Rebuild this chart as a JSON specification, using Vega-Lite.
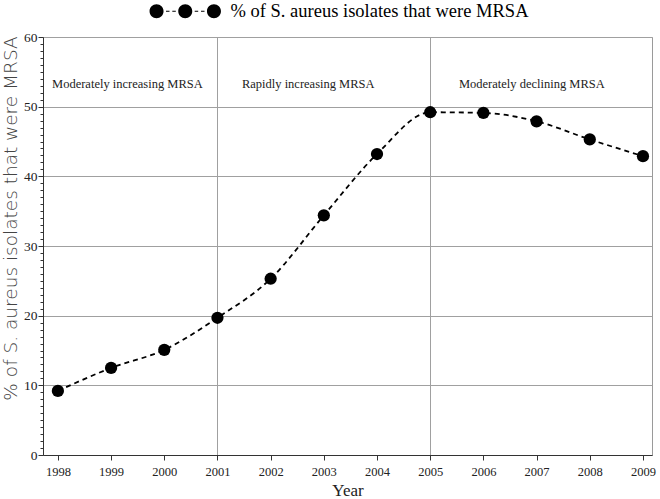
{
  "$schema": "https://vega.github.io/schema/vega-lite/v6.json",
  "width": 609,
  "height": 418,
  "autosize": {"type": "none"},
  "padding": {"left": 43, "top": 37, "right": 8, "bottom": 44},
  "background": "white",
  "config": {
    "view": {"stroke": "#9a9a9a", "strokeWidth": 1},
    "axis": {
      "domainColor": "#333",
      "tickColor": "#333",
      "gridColor": "#a0a0a0",
      "gridWidth": 1,
      "labelFont": "Liberation Serif",
      "labelColor": "#222",
      "titleColor": "#222",
      "titleFontWeight": "normal"
    }
  },
  "datasets": {
    "mrsa": [
      {"year": 1998, "pct": 9.2},
      {"year": 1999, "pct": 12.5},
      {"year": 2000, "pct": 15.1},
      {"year": 2001, "pct": 19.7},
      {"year": 2002, "pct": 25.3},
      {"year": 2003, "pct": 34.4},
      {"year": 2004, "pct": 43.2},
      {"year": 2005, "pct": 49.2},
      {"year": 2006, "pct": 49.1},
      {"year": 2007, "pct": 47.9},
      {"year": 2008, "pct": 45.3},
      {"year": 2009, "pct": 42.9}
    ],
    "phases": [
      {"year": 1997.89, "pct": 53.3, "label": "Moderately increasing MRSA"},
      {"year": 2001.46, "pct": 53.3, "label": "Rapidly increasing MRSA"},
      {"year": 2005.54, "pct": 53.3, "label": "Moderately declining MRSA"}
    ]
  },
  "encoding": {
    "x": {
      "field": "year",
      "type": "quantitative",
      "scale": {"domain": [1997.72, 2009.17], "nice": false, "zero": false},
      "axis": {
        "title": "Year",
        "titleFont": "Liberation Serif",
        "titleFontSize": 17,
        "titlePadding": 5,
        "values": [1998, 1999, 2000, 2001, 2002, 2003, 2004, 2005, 2006, 2007, 2008, 2009],
        "format": "d",
        "labelFontSize": 12.5,
        "labelPadding": 5,
        "tickSize": 5,
        "grid": true,
        "gridOpacity": {"condition": {"test": "datum.value == 2001 || datum.value == 2005", "value": 1}, "value": 0}
      }
    },
    "y": {
      "field": "pct",
      "type": "quantitative",
      "scale": {"domain": [0, 60], "nice": false},
      "axis": {
        "title": "% of S. aureus isolates that were MRSA",
        "titleFont": "DejaVu Sans",
        "titleFontSize": 18.5,
        "titleFontWeight": 300,
        "titleColor": "#444",
        "titlePadding": 3,
        "titleY": 181,
        "values": [0,1,2,3,4,5,6,7,8,9,10,11,12,13,14,15,16,17,18,19,20,21,22,23,24,25,26,27,28,29,30,31,32,33,34,35,36,37,38,39,40,41,42,43,44,45,46,47,48,49,50,51,52,53,54,55,56,57,58,59,60],
        "labelExpr": "datum.value % 10 === 0 ? datum.label : ''",
        "labelFontSize": 13.5,
        "labelPadding": 1,
        "tickSize": {"condition": {"test": "datum.value % 10 === 0", "value": 5}, "value": 3},
        "grid": true,
        "gridOpacity": {"condition": {"test": "datum.value % 10 === 0", "value": 1}, "value": 0}
      }
    }
  },
  "layer": [
    {
      "data": {"name": "mrsa"},
      "mark": {"type": "line", "color": "black", "strokeWidth": 1.8, "strokeDash": [5, 4], "interpolate": "monotone"}
    },
    {
      "data": {"name": "mrsa"},
      "mark": {"type": "point", "filled": true, "opacity": 1, "size": 150},
      "encoding": {
        "color": {
          "datum": "% of S. aureus isolates that were MRSA",
          "scale": {"range": ["black"]},
          "legend": {
            "title": null,
            "orient": "none",
            "legendX": 133,
            "legendY": -35,
            "padding": 0,
            "symbolType": "M -5.1,0 A 1,1 0 1,0 -3.1,0 A 1,1 0 1,0 -5.1,0 Z M -1,0 A 1,1 0 1,0 1,0 A 1,1 0 1,0 -1,0 Z M 3.1,0 A 1,1 0 1,0 5.1,0 A 1,1 0 1,0 3.1,0 Z M -2.75,-0.07 L -2.25,-0.07 L -2.25,0.07 L -2.75,0.07 Z M -1.85,-0.07 L -1.35,-0.07 L -1.35,0.07 L -1.85,0.07 Z M 1.35,-0.07 L 1.85,-0.07 L 1.85,0.07 L 1.35,0.07 Z M 2.25,-0.07 L 2.75,-0.07 L 2.75,0.07 L 2.25,0.07 Z",
            "symbolSize": 196,
            "symbolFillColor": "black",
            "symbolStrokeWidth": 0,
            "labelFont": "Liberation Serif",
            "labelFontSize": 18.5,
            "labelColor": "black",
            "labelOffset": 36,
            "labelLimit": 400
          }
        }
      }
    },
    {
      "data": {"name": "phases"},
      "mark": {"type": "text", "align": "left", "baseline": "middle", "font": "Liberation Serif", "fontSize": 12.5, "color": "#222"},
      "encoding": {"text": {"field": "label"}}
    }
  ]
}
